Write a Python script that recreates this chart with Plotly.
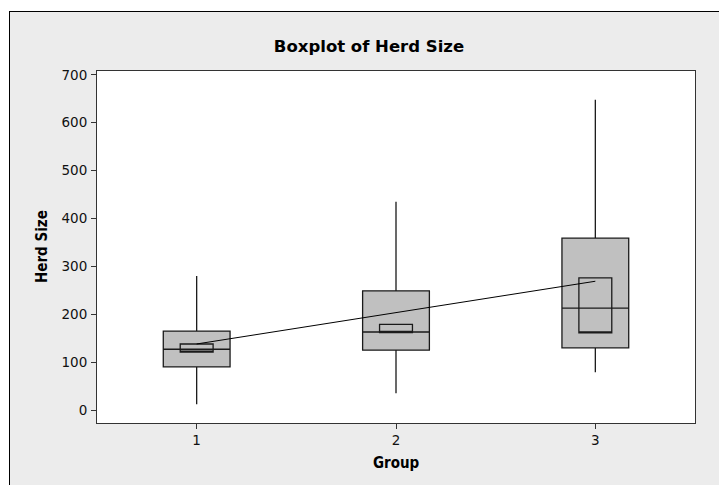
import plotly.graph_objects as go

# ---- data ----
groups = [1, 2, 3]
lower_whisker = [12, 35, 79]
q1 = [90, 125, 130]
median = [127, 163, 213]
q3 = [165, 249, 359]
upper_whisker = [280, 435, 648]
ci_low = [121, 162, 161]
ci_high = [138, 179, 276]
means = [138, 203, 269]
y_ticks = [0, 100, 200, 300, 400, 500, 600, 700]

# page is offset by the default 8px body margin
OFF = 8
W, H = 727 - OFF, 485 - OFF
L, T = 97 - OFF, 71 - OFF
R = W - (695 - OFF)
B = H - (423 - OFF)
pw, ph = W - L - R, H - T - B

def px(x):  # page pixel -> paper x
    return (x - OFF - L) / pw

def py(y):  # page pixel -> paper y
    return (H - B - (y - OFF)) / ph

TICKFONT = "'DejaVu Sans', sans-serif"
AXTITLEFONT = "'DejaVu Sans Condensed', 'DejaVu Sans', sans-serif"
TITLEFONT = "'DejaVu Sans', sans-serif"

fig = go.Figure()

fig.add_trace(go.Box(
    x=groups, q1=q1, median=median, q3=q3,
    lowerfence=lower_whisker, upperfence=upper_whisker,
    width=0.335, whiskerwidth=0, boxpoints=False,
    fillcolor="#c0c0c0", line=dict(color="#1a1a1a", width=1.3),
    showlegend=False, hoverinfo="skip",
))

fig.add_trace(go.Box(
    x=groups, q1=ci_low, median=ci_low, q3=ci_high,
    lowerfence=ci_low, upperfence=ci_high,
    width=0.165, whiskerwidth=0, boxpoints=False,
    fillcolor="rgba(0,0,0,0)", line=dict(color="#1a1a1a", width=1.3),
    showlegend=False, hoverinfo="skip",
))

fig.add_trace(go.Scatter(
    x=groups, y=means, mode="lines",
    line=dict(color="#000000", width=1),
    showlegend=False, hoverinfo="skip",
))

axis_common = dict(
    showline=True, mirror=True, linecolor="#333333", linewidth=1,
    ticks="outside", ticklen=5, tickcolor="#333333", tickwidth=1,
    showgrid=False, zeroline=False,
    tickfont=dict(family=TICKFONT, size=13.5, color="#111111"),
)

fig.update_xaxes(range=[0.5, 3.5], tickvals=groups, ticktext=[str(g) for g in groups],
                 **axis_common)
fig.update_yaxes(range=[-27, 708], tickvals=y_ticks, ticktext=[str(v) for v in y_ticks],
                 ticklabelstandoff=1, **axis_common)

fig.update_layout(
    width=W, height=H,
    margin=dict(l=L, r=R, t=T, b=B, pad=0),
    paper_bgcolor="#ececec", plot_bgcolor="#ffffff",
    boxmode="overlay",
    title=dict(text="<b>Boxplot of Herd Size</b>", x=(369 - OFF) / W, xref="container",
               y=1 - (46 - OFF) / H, yref="container", xanchor="center", yanchor="middle",
               font=dict(family=TITLEFONT, size=16.5, color="#000000")),
    annotations=[
        dict(text="<b>Herd Size</b>", textangle=-90, x=px(42), y=0.5,
             xref="paper", yref="paper", showarrow=False,
             font=dict(family=AXTITLEFONT, size=15, color="#000000"),
             xanchor="center", yanchor="middle"),
        dict(text="<b>Group</b>", x=px(396), y=py(463),
             xref="paper", yref="paper", showarrow=False,
             font=dict(family=AXTITLEFONT, size=15, color="#000000"),
             xanchor="center", yanchor="middle"),
    ],
    shapes=[
        dict(type="rect", xref="paper", yref="paper", x0=px(0), x1=px(727), y0=py(0), y1=py(11),
             fillcolor="#ffffff", line=dict(width=0), layer="above"),
        dict(type="rect", xref="paper", yref="paper", x0=px(0), x1=px(9), y0=py(0), y1=py(485),
             fillcolor="#ffffff", line=dict(width=0), layer="above"),
        dict(type="line", xref="paper", yref="paper", x0=px(9.5), x1=px(9.5), y0=py(11), y1=py(485),
             line=dict(color="#000000", width=1), layer="above"),
        dict(type="line", xref="paper", yref="paper", x0=px(9), x1=px(727), y0=py(11.5), y1=py(11.5),
             line=dict(color="#000000", width=1), layer="above"),
    ],
)

fig.write_html("out.html")
